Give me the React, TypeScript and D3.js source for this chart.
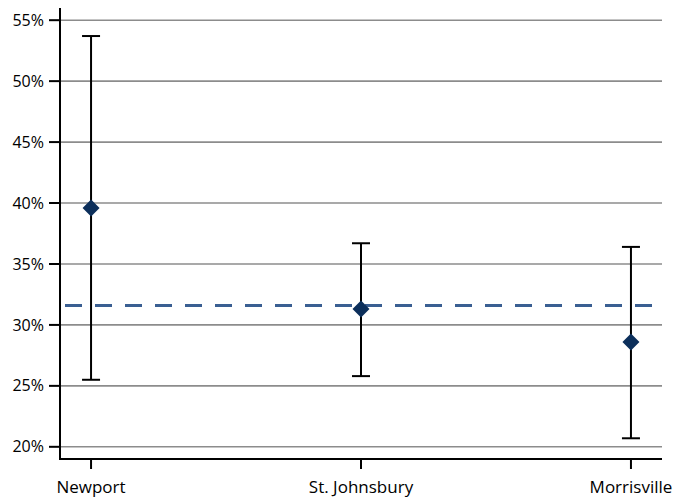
import React from "react";
import * as d3 from "d3";

const categories = ["Newport", "St. Johnsbury", "Morrisville"];
const pointValues = [39.6, 31.3, 28.6];
const upperValues = [53.7, 36.7, 36.4];
const lowerValues = [25.5, 25.8, 20.7];
const referenceValue = 31.6;
const yTicks = [20, 25, 30, 35, 40, 45, 50, 55];

export default function App() {
  const W = 675, H = 500;
  const left = 60, right = 662, top = 8, bottom = 459;
  const y = d3.scaleLinear().domain([19, 56]).range([bottom, top]);
  const x = d3.scalePoint<string>().domain(categories).range([left, right]).padding(0.115);
  const font = "'Open Sans', 'Noto Sans', sans-serif";
  const capW = 9;
  const dia = 8.5;
  return (
    <svg width={W} height={H} style={{ position: "absolute", left: 0, top: 0, background: "#fff" }}>
      {yTicks.map((t) => (
        <g key={t}>
          <line x1={left} x2={right} y1={y(t)} y2={y(t)} stroke="#8c8c8c" strokeWidth={1.6} />
          <line x1={49} x2={left} y1={y(t)} y2={y(t)} stroke="#000" strokeWidth={2} />
          <text x={44} y={y(t)} dy="0.35em" textAnchor="end" fontFamily={font} fontSize={16} fill="#000">
            {t}%
          </text>
        </g>
      ))}
      <line x1={left} x2={right} y1={y(referenceValue)} y2={y(referenceValue)} stroke="#3a5f92" strokeWidth={3} strokeDasharray="17 13" strokeDashoffset={-5} />
      {categories.map((c, i) => {
        const cx = x(c) as number;
        const py = y(pointValues[i]);
        return (
          <g key={c}>
            <line x1={cx} x2={cx} y1={y(upperValues[i])} y2={y(lowerValues[i])} stroke="#000" strokeWidth={2} />
            <line x1={cx - capW} x2={cx + capW} y1={y(upperValues[i])} y2={y(upperValues[i])} stroke="#000" strokeWidth={2} />
            <line x1={cx - capW} x2={cx + capW} y1={y(lowerValues[i])} y2={y(lowerValues[i])} stroke="#000" strokeWidth={2} />
            <path d={`M${cx},${py - dia}L${cx + dia},${py}L${cx},${py + dia}L${cx - dia},${py}Z`} fill="#0c2f5b" />
            <line x1={cx} x2={cx} y1={bottom} y2={bottom + 10} stroke="#000" strokeWidth={2} />
            <text x={cx} y={493} textAnchor="middle" fontFamily={font} fontSize={17} fill="#000">
              {c}
            </text>
          </g>
        );
      })}
      <line x1={left} x2={left} y1={top} y2={bottom + 1} stroke="#000" strokeWidth={2} />
      <line x1={left - 1} x2={right} y1={bottom} y2={bottom} stroke="#000" strokeWidth={2} />
    </svg>
  );
}
